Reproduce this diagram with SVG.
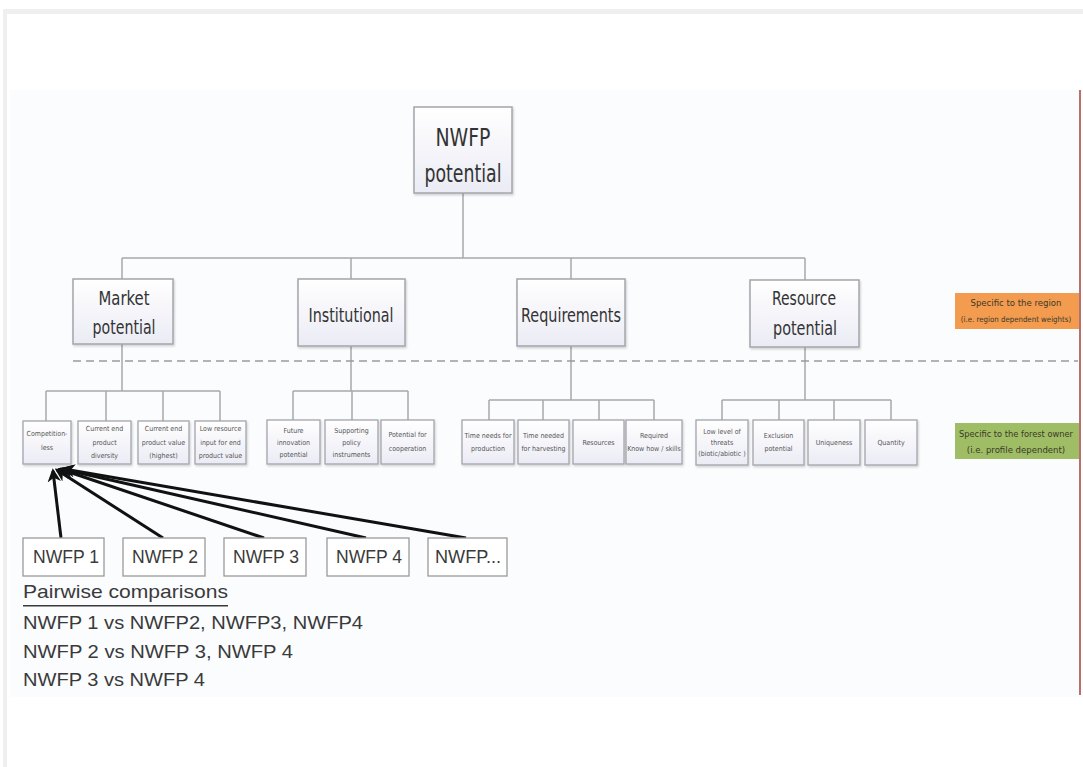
<svg xmlns="http://www.w3.org/2000/svg" width="1083" height="767" viewBox="0 0 1083 767">
  <style>
    .node rect.box { fill: url(#boxFill); stroke: #a4a4ac; stroke-width: 1.5; filter: url(#shadow); }
    .lbl { font-family: "Liberation Sans Narrow", "DejaVu Sans Condensed", "Liberation Sans", sans-serif; fill: #333; text-anchor: middle; }
    .big { font-size: 24px; }
    .mid { font-size: 20px; }
    .leaf text { font-family: "Liberation Sans Narrow", "DejaVu Sans Condensed", "Liberation Sans", sans-serif; font-size: 7px; fill: #555; text-anchor: middle; }
    .leaf rect { fill: url(#boxFill); stroke: #a4a4ac; stroke-width: 1.3; filter: url(#shadow); }
    .tree { fill: none; stroke: #a8a8a8; stroke-width: 1.5; }
    .dash { fill: none; stroke: #9a9a9a; stroke-width: 1.6; stroke-dasharray: 8 5; }
    .arrow { fill: none; stroke: #111; stroke-width: 3; marker-end: url(#head); }
    .alt rect { fill: #fff; stroke: #9a9a9a; stroke-width: 1.3; }
    .alt text, .note { font-family: "Liberation Sans", "Open Sans", sans-serif; fill: #3a3a3a; }
    .alt text { font-size: 18px; text-anchor: middle; }
    .note { font-size: 19px; }
    .tag text { font-family: "Liberation Sans Narrow", "DejaVu Sans Condensed", "Liberation Sans", sans-serif; font-size: 9.5px; fill: #3a3a2a; text-anchor: middle; }
    .tag text.small { font-size: 7.8px; }
  </style>
  <defs>
    <linearGradient id="boxFill" x1="0" y1="0" x2="0" y2="1">
      <stop offset="0" stop-color="#ffffff"/>
      <stop offset="1" stop-color="#ebebf5"/>
    </linearGradient>
    <filter id="shadow" x="-10%" y="-10%" width="130%" height="130%">
      <feDropShadow dx="1" dy="1.5" stdDeviation="1" flood-color="#000" flood-opacity="0.18"/>
    </filter>
    <marker id="head" viewBox="0 0 10 10" refX="8" refY="5" markerWidth="4.5" markerHeight="4.5" orient="auto" markerUnits="strokeWidth">
      <path d="M0,0 L10,5 L0,10 L3,5 Z" fill="#111"/>
    </marker>
  </defs>

  <!-- page frame -->
  <rect x="0" y="0" width="1083" height="767" fill="#ffffff"/>
  <rect x="3" y="9" width="1080" height="5" fill="#efefef"/>
  <rect x="3" y="9" width="4" height="758" fill="#efefef"/>
  <rect x="10" y="90" width="1073" height="607" fill="#fbfcfe"/>
  <rect x="1079" y="90" width="2" height="605" fill="#b7706c"/>

  <!-- connectors -->
  <g id="connectors">
    <path class="tree" d="M463,193 V258 M122,258 H805 M122,258 V279 M351,258 V279 M571,258 V279 M805,258 V280"/>
    <path class="tree" d="M122,344 V391 M46,391 H220 M46,391 V421 M106,391 V421 M163,391 V421 M220,391 V421"/>
    <path class="tree" d="M351,346 V391 M293,391 H408 M293,391 V420 M352,391 V420 M408,391 V420"/>
    <path class="tree" d="M571,346 V400 M489,400 H654 M489,400 V420 M543,400 V420 M599,400 V420 M654,400 V420"/>
    <path class="tree" d="M805,347 V400 M722,400 H891 M722,400 V420 M779,400 V420 M834,400 V420 M891,400 V420"/>
    <path class="dash" d="M73,361 H1078"/>
    <path class="arrow" d="M61,538 L53,471"/>
    <path class="arrow" d="M163,538 L57,470"/>
    <path class="arrow" d="M264,538 L60,469"/>
    <path class="arrow" d="M366,538 L62,469"/>
    <path class="arrow" d="M466,538 L64,469"/>
  </g>

  <!-- root -->
  <g id="root" class="node">
    <rect class="box" x="414" y="107" width="98" height="86"/>
    <text class="lbl big" x="463" y="146" textLength="55" lengthAdjust="spacingAndGlyphs">NWFP</text>
    <text class="lbl big" x="463" y="182" textLength="77" lengthAdjust="spacingAndGlyphs">potential</text>
  </g>

  <!-- criteria -->
  <g id="market" class="node">
    <rect class="box" x="73" y="279" width="100" height="65"/>
    <text class="lbl mid" x="124" y="305" textLength="51" lengthAdjust="spacingAndGlyphs">Market</text>
    <text class="lbl mid" x="124" y="334" textLength="63" lengthAdjust="spacingAndGlyphs">potential</text>
  </g>
  <g id="institutional" class="node">
    <rect class="box" x="298" y="279" width="107" height="67"/>
    <text class="lbl mid" x="351" y="322" textLength="85" lengthAdjust="spacingAndGlyphs">Institutional</text>
  </g>
  <g id="requirements" class="node">
    <rect class="box" x="517" y="279" width="108" height="67"/>
    <text class="lbl mid" x="571" y="322" textLength="100" lengthAdjust="spacingAndGlyphs">Requirements</text>
  </g>
  <g id="resource" class="node">
    <rect class="box" x="750" y="280" width="109" height="67"/>
    <text class="lbl mid" x="804" y="305" textLength="64" lengthAdjust="spacingAndGlyphs">Resource</text>
    <text class="lbl mid" x="805" y="335" textLength="64" lengthAdjust="spacingAndGlyphs">potential</text>
  </g>

  <!-- sub-criteria: market potential -->
  <g id="competition" class="leaf">
    <rect x="23" y="421" width="48" height="43"/>
    <text x="47" y="436">Competition-</text>
    <text x="47" y="450">less</text>
  </g>
  <g id="diversity" class="leaf">
    <rect x="78" y="421" width="53" height="43"/>
    <text x="104.5" y="431">Current end</text>
    <text x="104.5" y="445">product</text>
    <text x="104.5" y="458">diversity</text>
  </g>
  <g id="value" class="leaf">
    <rect x="138" y="421" width="51" height="43"/>
    <text x="163.5" y="431">Current end</text>
    <text x="163.5" y="445">product value</text>
    <text x="163.5" y="458">(highest)</text>
  </g>
  <g id="low-input" class="leaf">
    <rect x="195" y="421" width="51" height="43"/>
    <text x="220.5" y="431">Low resource</text>
    <text x="220.5" y="445">input for end</text>
    <text x="220.5" y="458">product value</text>
  </g>

  <!-- sub-criteria: institutional -->
  <g id="innovation" class="leaf">
    <rect x="267" y="420" width="53" height="44"/>
    <text x="293.5" y="433">Future</text>
    <text x="293.5" y="445">innovation</text>
    <text x="293.5" y="457">potential</text>
  </g>
  <g id="policy" class="leaf">
    <rect x="325" y="420" width="53" height="44"/>
    <text x="351.5" y="433">Supporting</text>
    <text x="351.5" y="445">policy</text>
    <text x="351.5" y="457">instruments</text>
  </g>
  <g id="cooperation" class="leaf">
    <rect x="381" y="420" width="53" height="44"/>
    <text x="407.5" y="437">Potential for</text>
    <text x="407.5" y="451">cooperation</text>
  </g>

  <!-- sub-criteria: requirements -->
  <g id="production" class="leaf">
    <rect x="462" y="420" width="52" height="44"/>
    <text x="488" y="438">Time needs for</text>
    <text x="488" y="451">production</text>
  </g>
  <g id="harvesting" class="leaf">
    <rect x="518" y="420" width="51" height="44"/>
    <text x="543.5" y="438">Time needed</text>
    <text x="543.5" y="451">for harvesting</text>
  </g>
  <g id="resources" class="leaf">
    <rect x="573" y="420" width="51" height="44"/>
    <text x="598.5" y="445">Resources</text>
  </g>
  <g id="knowhow" class="leaf">
    <rect x="626" y="420" width="56" height="44"/>
    <text x="654" y="438">Required</text>
    <text x="654" y="451">Know how / skills</text>
  </g>

  <!-- sub-criteria: resource potential -->
  <g id="threats" class="leaf">
    <rect x="696" y="420" width="52" height="45"/>
    <text x="722" y="434">Low level of</text>
    <text x="722" y="445">threats</text>
    <text x="722" y="456">(biotic/abiotic )</text>
  </g>
  <g id="exclusion" class="leaf">
    <rect x="753" y="420" width="51" height="45"/>
    <text x="778.5" y="438">Exclusion</text>
    <text x="778.5" y="451">potential</text>
  </g>
  <g id="uniqueness" class="leaf">
    <rect x="808" y="420" width="52" height="45"/>
    <text x="834" y="445">Uniqueness</text>
  </g>
  <g id="quantity" class="leaf">
    <rect x="865" y="420" width="52" height="45"/>
    <text x="891" y="445">Quantity</text>
  </g>

  <!-- weighting tags -->
  <g id="tag-region" class="tag">
    <rect x="955" y="293" width="124" height="36" fill="#f39b4f"/>
    <text x="1016" y="306">Specific to the region</text>
    <text class="small" x="1016" y="322">(i.e. region dependent weights)</text>
  </g>
  <g id="tag-owner" class="tag">
    <rect x="955" y="423" width="124" height="36" fill="#9fbd64"/>
    <text x="1016" y="437" textLength="114" lengthAdjust="spacingAndGlyphs">Specific to the forest owner</text>
    <text x="1016" y="453">(i.e. profile dependent)</text>
  </g>

  <!-- alternatives -->
  <g id="nwfp1" class="alt">
    <rect x="23" y="538" width="81" height="38"/>
    <text x="66" y="563" textLength="66" lengthAdjust="spacingAndGlyphs">NWFP 1</text>
  </g>
  <g id="nwfp2" class="alt">
    <rect x="123" y="538" width="82" height="38"/>
    <text x="165" y="563" textLength="66" lengthAdjust="spacingAndGlyphs">NWFP 2</text>
  </g>
  <g id="nwfp3" class="alt">
    <rect x="224" y="538" width="82" height="38"/>
    <text x="266" y="563" textLength="66" lengthAdjust="spacingAndGlyphs">NWFP 3</text>
  </g>
  <g id="nwfp4" class="alt">
    <rect x="327" y="538" width="82" height="38"/>
    <text x="369" y="563" textLength="66" lengthAdjust="spacingAndGlyphs">NWFP 4</text>
  </g>
  <g id="nwfp5" class="alt">
    <rect x="428" y="538" width="79" height="38"/>
    <text x="468" y="563" textLength="66" lengthAdjust="spacingAndGlyphs">NWFP...</text>
  </g>

  <!-- comparison list -->
  <g id="comparisons">
    <text class="note" x="23" y="598" textLength="205" lengthAdjust="spacingAndGlyphs">Pairwise  comparisons</text>
    <rect x="23" y="605" width="205" height="1.5" fill="#3a3a3a"/>
    <text class="note" x="23" y="629" textLength="340" lengthAdjust="spacingAndGlyphs">NWFP 1 vs NWFP2, NWFP3, NWFP4</text>
    <text class="note" x="23" y="658" textLength="270" lengthAdjust="spacingAndGlyphs">NWFP 2 vs NWFP 3, NWFP 4</text>
    <text class="note" x="23" y="686" textLength="182" lengthAdjust="spacingAndGlyphs">NWFP 3 vs NWFP 4</text>
  </g>
</svg>
